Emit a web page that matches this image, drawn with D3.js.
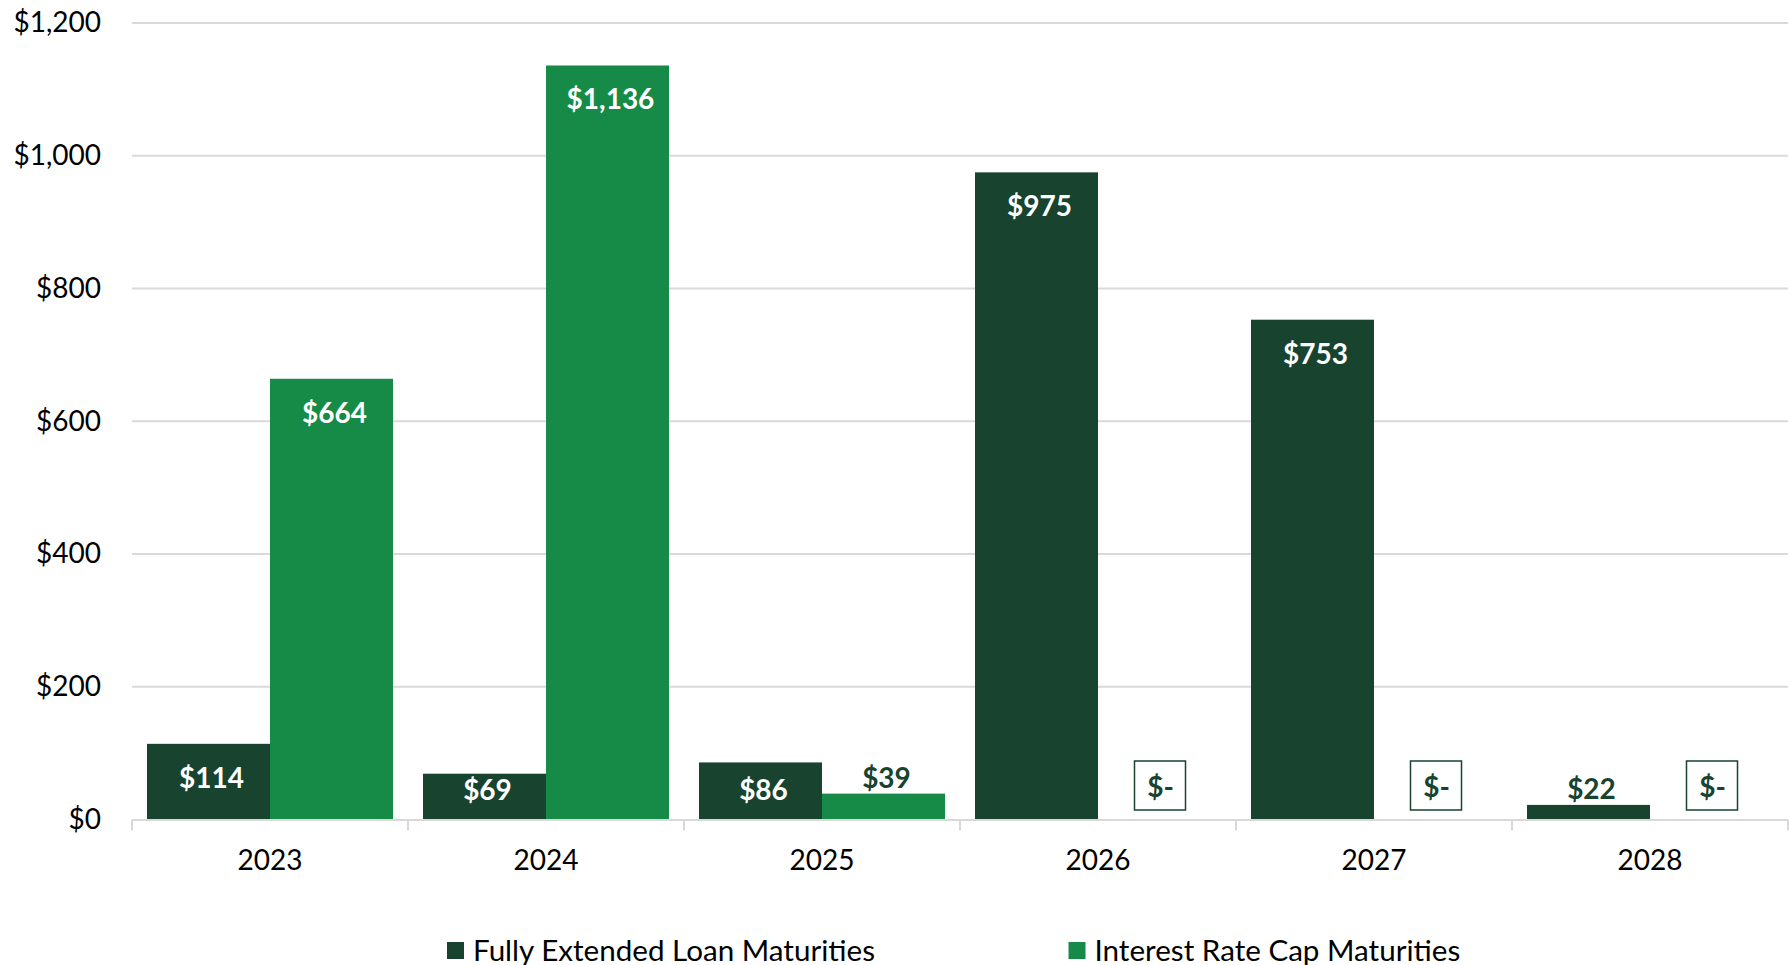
<!DOCTYPE html>
<html>
<head>
<meta charset="utf-8">
<script src="https://cdn.jsdelivr.net/npm/d3@7"></script>
<style>
  html, body { margin: 0; padding: 0; background: #fff; }
  svg { display: block; }
  text { font-family: Lato, "Open Sans", sans-serif; }
</style>
</head>
<body>
<svg id="chart" width="1790" height="965"></svg>
<script>
const years = ["2023", "2024", "2025", "2026", "2027", "2028"];
const loanMaturities = [114, 69, 86, 975, 753, 22];
const capMaturities = [664, 1136, 39, 0, 0, 0];
const yTickValues = [0, 200, 400, 600, 800, 1000, 1200];
const seriesNames = ["Fully Extended Loan Maturities", "Interest Rate Cap Maturities"];
const seriesKeys = ["loan", "cap"];
const colors = { loan: "#17432F", cap: "#158B47" };

(function () {
const svg = d3.select("#chart");
const plotLeft = 132, plotRight = 1788, plotTop = 23, plotBottom = 819.5;

const x = d3.scaleBand().domain(years).range([plotLeft, plotRight]).paddingInner(30 / 276).paddingOuter(15 / 276);
const xs = d3.scaleBand().domain(seriesKeys).range([0, x.bandwidth()]).padding(0);
const y = d3.scaleLinear().domain([0, 1200]).range([plotBottom, plotTop]);

// gridlines
svg.append("g").selectAll("line").data(yTickValues.filter(d => d > 0)).join("line")
  .attr("x1", plotLeft).attr("x2", plotRight)
  .attr("y1", d => y(d)).attr("y2", d => y(d))
  .attr("stroke", "#d9d9d9").attr("stroke-width", 2);

// y axis labels
const yAxis = svg.append("g").attr("transform", `translate(${plotLeft},0)`)
  .call(d3.axisLeft(y).tickValues(yTickValues).tickSize(0).tickPadding(31)
    .tickFormat(d => "$" + d3.format(",")(d)));
yAxis.select(".domain").remove();
yAxis.selectAll("text").attr("font-size", 28).attr("fill", "#000").attr("font-family", "Lato, sans-serif");

const data = years.map((yr, i) => ({ year: yr, loan: loanMaturities[i], cap: capMaturities[i] }));

// bars
const groups = svg.append("g").selectAll("g").data(data).join("g")
  .attr("transform", d => `translate(${x(d.year)},0)`);

groups.selectAll("rect").data(d => seriesKeys.map(k => ({ key: k, value: d[k] }))).join("rect")
  .attr("x", d => xs(d.key))
  .attr("width", xs.bandwidth())
  .attr("y", d => y(d.value))
  .attr("height", d => plotBottom - y(d.value))
  .attr("fill", d => colors[d.key]);

// x axis line and ticks
svg.append("line").attr("x1", plotLeft).attr("x2", plotRight).attr("y1", plotBottom + 0.5).attr("y2", plotBottom + 0.5)
  .attr("stroke", "#d9d9d9").attr("stroke-width", 2);
const boundaries = years.map(yr => x(yr) - x.step() * x.paddingOuter()).concat([plotRight]);
svg.append("g").selectAll("line").data(boundaries).join("line")
  .attr("x1", d => d).attr("x2", d => d).attr("y1", plotBottom).attr("y2", plotBottom + 11)
  .attr("stroke", "#d9d9d9").attr("stroke-width", 2);

// x labels
svg.append("g").selectAll("text").data(years).join("text")
  .attr("x", d => x(d) + x.bandwidth() / 2)
  .attr("y", 859)
  .attr("text-anchor", "middle").attr("dominant-baseline", "central")
  .attr("font-size", 28).attr("fill", "#000")
  .text(d => d);

// data labels
const fmt = v => v === 0 ? "$-" : "$" + d3.format(",")(v);
groups.each(function(d) {
  const g = d3.select(this);
  seriesKeys.forEach(k => {
    const v = d[k];
    const cx = xs(k) + xs.bandwidth() / 2 + 3;
    const yTop = y(v);
    const h = plotBottom - yTop;
    if (v === 0) {
      g.append("rect").attr("x", cx - 3 - 25).attr("y", 761).attr("width", 51).attr("height", 49)
        .attr("fill", "#fff").attr("stroke", colors.loan).attr("stroke-width", 1.5);
      g.append("text").attr("x", cx - 2).attr("y", 786)
        .attr("text-anchor", "middle").attr("dominant-baseline", "central")
        .attr("font-size", 28).attr("font-weight", "bold").attr("fill", colors.loan)
        .text(fmt(v));
    } else if (h >= 40) {
      const ly = Math.min(yTop + 33, plotBottom - 30.5);
      g.append("text").attr("x", cx).attr("y", ly)
        .attr("text-anchor", "middle").attr("dominant-baseline", "central")
        .attr("font-size", 28).attr("font-weight", "bold").attr("fill", "#fff")
        .text(fmt(v));
    } else {
      g.append("text").attr("x", cx).attr("y", yTop - 17)
        .attr("text-anchor", "middle").attr("dominant-baseline", "central")
        .attr("font-size", 28).attr("font-weight", "bold").attr("fill", colors.loan)
        .text(fmt(v));
    }
  });
});

// legend
const legendX = [447, 1068.5];
const legend = svg.append("g").selectAll("g").data(seriesKeys).join("g")
  .attr("transform", (d, i) => `translate(${legendX[i]},0)`);
legend.append("rect").attr("x", 0).attr("y", 942).attr("width", 17).attr("height", 17)
  .attr("fill", d => colors[d]);
legend.append("text").attr("x", 26).attr("y", 949)
  .attr("dominant-baseline", "central").attr("font-size", 29.6).attr("fill", "#000")
  .text((d, i) => seriesNames[i]);
})();
</script>
</body>
</html>
